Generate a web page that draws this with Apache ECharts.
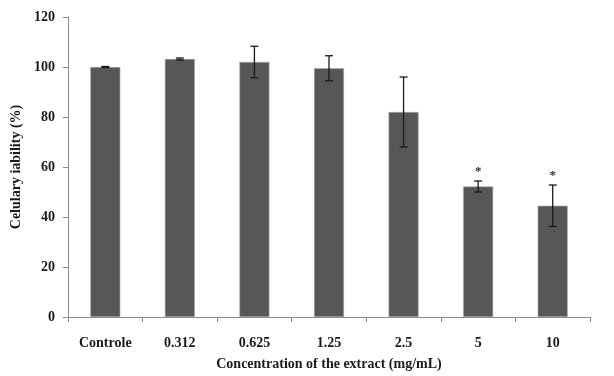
<!DOCTYPE html>
<html><head><meta charset="utf-8">
<script src="https://cdn.jsdelivr.net/npm/echarts@6/dist/echarts.min.js"></script>
<style>html,body{margin:0;padding:0;background:#fff}#c{width:614px;height:376px}</style>
</head><body><div id="c"></div>
<script>
var categories = ['Controle', '0.312', '0.625', '1.25', '2.5', '5', '10'];
var means = [100, 103.2, 102, 99.5, 82, 52.2, 44.5];
var errors = [0.2, 0.4, 6.3, 5, 14, 2.2, 8.3];
var marks = ['', '', '', '', '', '*', '*'];
var yTicks = [0, 20, 40, 60, 80, 100, 120];

var font = 'Liberation Serif';
var chart = echarts.init(document.getElementById('c'));
var errData = categories.map(function (c, i) { return [i, means[i], errors[i], marks[i]]; });
chart.setOption({
  animation: false,
  grid: { left: 68, right: 24, top: 17, bottom: 59 },
  xAxis: {
    type: 'category', data: categories,
    axisLine: { lineStyle: { color: '#8c8c8c', width: 1 } },
    axisTick: { show: true, alignWithLabel: false, length: 5, lineStyle: { color: '#8c8c8c' } },
    axisLabel: { color: '#1a1a1a', fontFamily: font, fontWeight: 'bold', fontSize: 14, margin: 19 },
    name: 'Concentration of the extract (mg/mL)', nameLocation: 'middle', nameGap: 40,
    nameTextStyle: { color: '#1a1a1a', fontFamily: font, fontWeight: 'bold', fontSize: 14 }
  },
  yAxis: {
    type: 'value', min: 0, max: 120, interval: 20,
    axisLine: { show: true, lineStyle: { color: '#8c8c8c', width: 1 } },
    axisTick: { show: true, length: 5, lineStyle: { color: '#8c8c8c' } },
    splitLine: { show: false },
    axisLabel: { color: '#1a1a1a', fontFamily: font, fontWeight: 'bold', fontSize: 14, margin: 13,
      formatter: function (v) { return yTicks.indexOf(v) >= 0 ? String(v) : ''; } },
    name: 'Celulary iability (%)', nameLocation: 'middle', nameGap: 44, nameRotate: 90,
    nameTextStyle: { color: '#1a1a1a', fontFamily: font, fontWeight: 'bold', fontSize: 14 }
  },
  series: [
    { type: 'bar', data: means, barWidth: 30,
      itemStyle: { color: '#575757', borderColor: '#a8a8a8', borderWidth: 0.6 } },
    { type: 'custom', data: errData, z: 10,
      renderItem: function (params, api) {
        var x = api.value(0), m = api.value(1), e = api.value(2);
        var hi = api.coord([x, m + e]), lo = api.coord([x, m - e]);
        var cw = 4;
        var st = { stroke: '#1a1a1a', lineWidth: 1.3 };
        var children = [
          { type: 'line', shape: { x1: hi[0], y1: hi[1], x2: lo[0], y2: lo[1] }, style: st },
          { type: 'line', shape: { x1: hi[0] - cw, y1: hi[1], x2: hi[0] + cw, y2: hi[1] }, style: st },
          { type: 'line', shape: { x1: lo[0] - cw, y1: lo[1], x2: lo[0] + cw, y2: lo[1] }, style: st }
        ];
        var mk = marks[params.dataIndex];
        if (mk) {
          children.push({ type: 'text', style: { text: mk, x: hi[0], y: hi[1] - 3, align: 'center', verticalAlign: 'bottom',
            fill: '#333', font: 'bold 13px ' + font } });
        }
        return { type: 'group', children: children };
      }
    }
  ]
});
</script></body></html>
